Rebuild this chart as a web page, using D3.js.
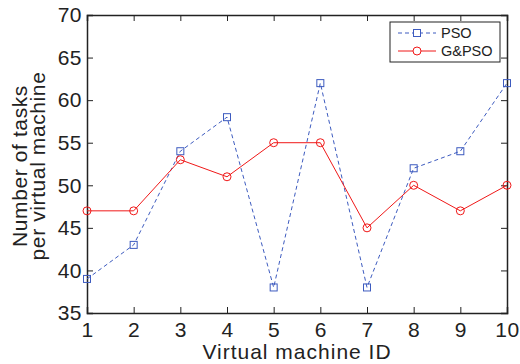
<!DOCTYPE html>
<html>
<head>
<meta charset="utf-8">
<script src="https://cdn.jsdelivr.net/npm/d3@7"></script>
<style>
  body { margin: 0; background: #fff; }
  text { font-family: "Liberation Sans", Arial, sans-serif; fill: #222; }
</style>
</head>
<body>
<svg id="chart" width="520" height="364"></svg>
<script>
const vmIds = [1, 2, 3, 4, 5, 6, 7, 8, 9, 10];
const psoValues = [39, 43, 54, 58, 38, 62, 38, 52, 54, 62];
const gpsoValues = [47, 47, 53, 51, 55, 55, 45, 50, 47, 50];
const xTicks = [1, 2, 3, 4, 5, 6, 7, 8, 9, 10];
const yTicks = [35, 40, 45, 50, 55, 60, 65, 70];

const margin = { top: 15, right: 13, bottom: 51, left: 87 };
const width = 520 - margin.left - margin.right;
const height = 364 - margin.top - margin.bottom;

const svg = d3.select("#chart");
const g = svg.append("g").attr("transform", `translate(${margin.left},${margin.top})`);

const x = d3.scaleLinear().domain([1, 10]).range([0, width]);
const y = d3.scaleLinear().domain([35, 70]).range([height, 0]);

// axes, ticks pointing inward like matlab
const tickLen = 6;
const xAxis = g.append("g").attr("transform", `translate(0,${height})`)
  .call(d3.axisBottom(x).tickValues(xTicks).tickSize(-tickLen).tickPadding(9).tickFormat(d3.format("d")));
const xTop = g.append("g")
  .call(d3.axisTop(x).tickValues(xTicks).tickSize(-tickLen).tickFormat(""));
const yAxis = g.append("g")
  .call(d3.axisLeft(y).tickValues(yTicks).tickSize(-tickLen).tickPadding(5).tickFormat(d3.format("d")));
const yRight = g.append("g").attr("transform", `translate(${width},0)`)
  .call(d3.axisRight(y).tickValues(yTicks).tickSize(-tickLen).tickFormat(""));

[xAxis, xTop, yAxis, yRight].forEach(a => {
  a.select(".domain").attr("stroke", "#222").attr("stroke-width", 1.5);
  a.selectAll(".tick line").attr("stroke", "#222");
  a.selectAll("text").style("font-size", "21px").style("letter-spacing", "0.5px").attr("fill", "#222");
});

// axis titles
g.append("text")
  .attr("x", width / 2).attr("y", height + 46)
  .attr("text-anchor", "middle").style("font-size", "21px").style("letter-spacing", "1px")
  .text("Virtual machine ID");

const yl = g.append("text")
  .attr("transform", `translate(-60,${height / 2 + 2}) rotate(-90)`)
  .attr("text-anchor", "middle").style("font-size", "21px").style("letter-spacing", "0.6px");
yl.append("tspan").attr("x", 0).attr("y", 0).text("Number of tasks");
yl.append("tspan").attr("x", 0).attr("y", 18).text("per virtual machine");

const psoColor = "#3d5bbf";
const gpsoColor = "#f01818";

const line = d3.line().x((d, i) => x(vmIds[i])).y(d => y(d));

g.append("path").datum(psoValues)
  .attr("fill", "none").attr("stroke", psoColor).attr("stroke-width", 1)
  .attr("stroke-dasharray", "4,3").attr("d", line);
g.selectAll(".sq").data(psoValues).enter().append("rect")
  .attr("x", (d, i) => x(vmIds[i]) - 3.5).attr("y", d => y(d) - 3.5)
  .attr("width", 7).attr("height", 7)
  .attr("fill", "none").attr("stroke", psoColor).attr("stroke-width", 1);

g.append("path").datum(gpsoValues)
  .attr("fill", "none").attr("stroke", gpsoColor).attr("stroke-width", 1)
  .attr("d", line);
g.selectAll(".ci").data(gpsoValues).enter().append("circle")
  .attr("cx", (d, i) => x(vmIds[i])).attr("cy", d => y(d)).attr("r", 4)
  .attr("fill", "none").attr("stroke", gpsoColor).attr("stroke-width", 1);

// legend
const lg = svg.append("g").attr("transform", "translate(390,22)");
lg.append("rect").attr("width", 110).attr("height", 40)
  .attr("fill", "#fff").attr("stroke", "#222").attr("stroke-width", 1);
const items = [
  { name: "PSO", color: psoColor, dash: "4,3", marker: "sq" },
  { name: "G&PSO", color: gpsoColor, dash: null, marker: "ci" }
];
items.forEach((it, i) => {
  const cy = 11 + i * 18;
  lg.append("line").attr("x1", 8).attr("x2", 46).attr("y1", cy).attr("y2", cy)
    .attr("stroke", it.color).attr("stroke-dasharray", it.dash);
  if (it.marker === "sq") {
    lg.append("rect").attr("x", 27 - 3.5).attr("y", cy - 3.5).attr("width", 7).attr("height", 7)
      .attr("fill", "#fff").attr("stroke", it.color);
  } else {
    lg.append("circle").attr("cx", 27).attr("cy", cy).attr("r", 4)
      .attr("fill", "#fff").attr("stroke", it.color);
  }
  lg.append("text").attr("x", 51).attr("y", cy).attr("dy", "0.35em")
    .style("font-size", "14.5px").text(it.name);
});
</script>
</body>
</html>
